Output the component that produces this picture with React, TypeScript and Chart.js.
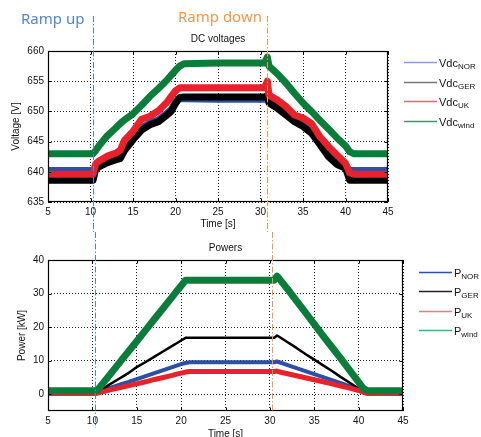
import React, { useEffect, useRef } from "react";
import { Chart, registerables } from "chart.js";
Chart.register(...registerables);

// ---- data ----
const time = [5, 10.3, 10.6, 11, 12, 13, 13.5, 14, 15, 16, 17, 18, 19, 19.5, 20, 20.5, 21, 25, 30.5, 30.8, 31, 32, 33, 34, 35, 36, 37, 38, 39, 40, 40.5, 41, 45];

const vdcNor = [640.2, 640.2, 640.7, 641.2, 641.9, 642.4, 642.6, 643.9, 645.6, 647.2, 648.1, 648.6, 649.7, 650.3, 651.6, 652.1, 652.1, 652.0, 652.0, 652.4, 651.6, 650.7, 649.6, 648.5, 647.7, 646.6, 644.8, 642.8, 641.5, 640.9, 640.2, 640.2, 640.2];
const vdcGer = [638.6, 638.6, 640.4, 640.8, 641.5, 642, 642.2, 643.5, 645.3, 646.9, 647.8, 648.3, 649.4, 650, 651.3, 652.3, 652.4, 652.4, 652.4, 652.6, 651.4, 650.5, 649.4, 648.3, 647.5, 646.4, 644.5, 642.5, 641.2, 640.6, 638.6, 638.6, 638.6];
const vdcUk = [639.6, 639.6, 641.3, 641.8, 642.6, 643.1, 643.6, 645.2, 646.7, 648.7, 649.2, 650.1, 651.5, 652.5, 653.4, 653.9, 653.9, 653.9, 653.9, 655, 652.7, 651.9, 650.8, 649.4, 648.9, 648.0, 645.8, 644.2, 642.8, 641.4, 639.8, 639.6, 639.6];
const vdcWind = [643, 643, 643.5, 644.3, 646, 647.3, 648, 648.6, 649.6, 651, 652.5, 653.8, 655.2, 656, 656.8, 657.5, 657.9, 658, 658, 659, 657.5, 656.2, 654.7, 653, 651.4, 650, 648.5, 647.1, 645.6, 644.3, 643.3, 643, 643];

const pNor = [0.5, 0.5, 0.6, 1, 1.9, 2.8, 3.2, 3.6, 4.5, 5.4, 6.3, 7.2, 8.1, 8.5, 9, 9.3, 9.5, 9.5, 9.5, 9.8, 9.6, 8.7, 7.8, 6.9, 6.0, 5.1, 4.2, 3.3, 2.4, 1.5, 1, 0.6, 0.5];
const pGer = [0.5, 0.5, 0.7, 1.3, 3, 4.6, 5.4, 6.2, 8.1, 9.6, 11.2, 12.8, 14.4, 15.2, 16, 16.8, 16.8, 16.8, 16.8, 17.5, 17.2, 15.5, 13.8, 12.0, 10.3, 8.6, 6.9, 5.1, 3.4, 1.7, 0.8, 0.5, 0.5];
const pUk = [0.2, 0.2, 0.3, 0.6, 1.3, 1.9, 2.2, 2.5, 3.1, 3.7, 4.4, 5, 5.6, 6, 6.3, 6.6, 6.8, 6.8, 6.8, 6.9, 6.7, 6.1, 5.5, 4.9, 4.3, 3.7, 3.1, 2.4, 1.8, 1.1, 0.6, 0.2, 0.2];
const pWind = [1, 1, 1.3, 2.6, 5.9, 9.2, 10.9, 12.5, 15.8, 19.1, 22.4, 25.7, 29, 30.7, 32.3, 34, 34, 34, 34, 35.2, 34.6, 31.3, 27.8, 24.4, 20.9, 17.4, 14.0, 10.6, 7.1, 3.6, 1.8, 1, 1];

const seriesSubs = ["NOR", "GER", "UK", "wind"];
const rampLabels = ["Ramp up", "Ramp down"];
const rampTop = [10.35, 30.8];
const rampBottom = [10.35, 30.2];

const FONT = "'Liberation Sans', Arial, Helvetica, sans-serif";
const COLORS = ["#2d4fa5", "#000000", "#e8212b", "#0a7d3b"];
const RAMP_COLORS = ["#4f86d4", "#f79646"];

const pts = (vals: number[]) => time.map((t, i) => ({ x: t, y: vals[i] }));

function makeOverlay(cfg: any) {
  return {
    id: "overlay",
    afterDraw(chart: any) {
      const { ctx, chartArea: a, scales } = chart;
      ctx.save();
      const L = Math.round(a.left) + 0.5;
      const R = Math.round(a.right) - 0.5;
      const T = Math.round(a.top) + 0.5;
      const B = Math.round(a.bottom) - 0.5;
      // frame
      ctx.strokeStyle = "#000";
      ctx.lineWidth = 1.2;
      ctx.setLineDash([]);
      ctx.strokeRect(L, T, R - L, B - T);
      // inward tick marks (box style)
      ctx.lineWidth = 1;
      ctx.beginPath();
      scales.x.ticks.forEach((tk: any) => {
        const px = Math.round(scales.x.getPixelForValue(tk.value)) + 0.5;
        ctx.moveTo(px, B);
        ctx.lineTo(px, B - 3);
        ctx.moveTo(px, T);
        ctx.lineTo(px, T + 3);
      });
      scales.y.ticks.forEach((tk: any) => {
        const py = Math.round(scales.y.getPixelForValue(tk.value)) + 0.5;
        ctx.moveTo(L, py);
        ctx.lineTo(L + 3, py);
        ctx.moveTo(R, py);
        ctx.lineTo(R - 3, py);
      });
      ctx.stroke();
      // title
      ctx.fillStyle = "#111";
      ctx.font = `10px ${FONT}`;
      ctx.textAlign = "center";
      ctx.textBaseline = "middle";
      ctx.fillText(cfg.title, (a.left + a.right) / 2, a.top - 12);
      // legend
      ctx.textAlign = "left";
      ctx.textBaseline = "alphabetic";
      cfg.subs.forEach((sub: string, i: number) => {
        const y = Math.round(a.top + cfg.legTop + i * cfg.legGap) + 0.5;
        const x0 = a.right + 16;
        ctx.strokeStyle = cfg.legColors[i];
        ctx.lineWidth = 1.5;
        ctx.beginPath();
        ctx.moveTo(x0, y);
        ctx.lineTo(x0 + 33, y);
        ctx.stroke();
        ctx.fillStyle = "#111";
        ctx.font = `11px ${FONT}`;
        const tx = x0 + 35;
        ctx.fillText(cfg.main, tx, y + 4);
        const w = ctx.measureText(cfg.main).width;
        ctx.font = `8px ${FONT}`;
        ctx.fillText(sub, tx + w, y + 6.5);
      });
      // ramp marker lines
      const xs = scales.x;
      cfg.ramps.forEach((t: number, i: number) => {
        const px = Math.round(xs.getPixelForValue(t)) + 0.5;
        ctx.strokeStyle = RAMP_COLORS[i];
        ctx.lineWidth = 1;
        ctx.setLineDash([6, 2, 1.5, 2]);
        ctx.beginPath();
        ctx.moveTo(px, cfg.rampFrom);
        ctx.lineTo(px, cfg.rampTo[i]);
        ctx.stroke();
      });
      ctx.setLineDash([]);
      if (cfg.rampText) {
        ctx.font = `15px 'Noto Sans', 'Open Sans', sans-serif`;
        ctx.textBaseline = "middle";
        ctx.textAlign = "left";
        ctx.fillStyle = RAMP_COLORS[0];
        ctx.fillText(rampLabels[0], 21, 20);
        ctx.fillStyle = RAMP_COLORS[1];
        ctx.fillText(rampLabels[1], 178, 18);
      }
      ctx.restore();
    },
  };
}

function axisCommon(min: number, max: number, step: number, title: string, titlePad: any, fitSize: number, horizontal: boolean, extra: any = {}) {
  return {
    type: "linear",
    min,
    max,
    grid: { color: "#222", lineWidth: 1, drawTicks: false },
    border: { display: false, dash: [1, 2] },
    ticks: { stepSize: step, padding: 4, color: "#111", font: { family: FONT, size: 10 }, maxRotation: 0, autoSkip: false, ...extra },
    title: { display: true, text: title, color: "#111", font: { family: FONT, size: 10 }, padding: titlePad },
    afterFit(scale: any) {
      if (horizontal) scale.height = fitSize;
      else scale.width = fitSize;
    },
  };
}

function buildConfig(datasetsVals: number[][], widths: number[], yMin: number, yMax: number, yStep: number, yTitle: string, yTitlePad: number, xHeight: number, xTitlePad: any, padding: any, overlay: any, yExtra: any = {}) {
  return {
    type: "line",
    data: {
      datasets: datasetsVals.map((vals, i) => ({
        label: seriesSubs[i],
        data: pts(vals),
        borderColor: COLORS[i],
        backgroundColor: COLORS[i],
        borderWidth: widths[i],
        pointRadius: 0,
        tension: 0,
        fill: false,
        order: 4 - i,
        clip: 0,
        borderJoinStyle: "round",
      })),
    },
    options: {
      responsive: false,
      animation: false,
      events: [],
      layout: { padding },
      plugins: { legend: { display: false }, tooltip: { enabled: false }, title: { display: false } },
      scales: {
        x: axisCommon(5, 45, 5, "Time [s]", { top: 0, bottom: xTitlePad }, xHeight, true),
        y: axisCommon(yMin, yMax, yStep, yTitle, { top: yTitlePad, bottom: 0 }, 48, false, yExtra),
      },
    },
    plugins: [makeOverlay(overlay)],
  };
}

export default function App() {
  const topRef = useRef<HTMLCanvasElement>(null);
  const botRef = useRef<HTMLCanvasElement>(null);

  useEffect(() => {
    const top = new Chart(
      topRef.current as any,
      buildConfig(
        [vdcNor, vdcGer, vdcUk, vdcWind],
        [7, 7, 7, 7],
        635, 660, 5, "Voltage [V]", 10, 30, 2,
        { left: 0, right: 93, top: 51, bottom: 0 },
        {
          title: "DC voltages",
          main: "Vdc",
          subs: seriesSubs,
          legTop: 11,
          legGap: 19.5,
          legColors: ["#8aa0d8", "#777777", "#f06070", "#3a9a6a"],
          ramps: rampTop,
          rampFrom: 16,
          rampTo: [232, 232],
          rampText: true,
        }
      ) as any
    );
    const bot = new Chart(
      botRef.current as any,
      buildConfig(
        [pNor, pGer, pUk, pWind],
        [4, 2.5, 5, 7],
        -5, 40, 10, "Power [kW]", 16, 31, 2,
        { left: 0, right: 78, top: 28, bottom: 0 },
        {
          title: "Powers",
          main: "P",
          subs: seriesSubs,
          legTop: 12,
          legGap: 19.3,
          legColors: ["#3050a0", "#222222", "#f07a80", "#40b07a"],
          ramps: rampBottom,
          rampFrom: 0,
          rampTo: [196, 179],
          rampText: false,
        },
        { includeBounds: false }
      ) as any
    );
    return () => {
      top.destroy();
      bot.destroy();
    };
  }, []);

  return (
    <div style={{ position: "fixed", left: 0, top: 0, width: 481, height: 437, overflow: "hidden", background: "#fff" }}>
      <canvas ref={topRef} width={481} height={232} style={{ position: "absolute", left: 0, top: 0, display: "block" }} />
      <canvas ref={botRef} width={481} height={210} style={{ position: "absolute", left: 0, top: 232, display: "block" }} />
    </div>
  );
}
